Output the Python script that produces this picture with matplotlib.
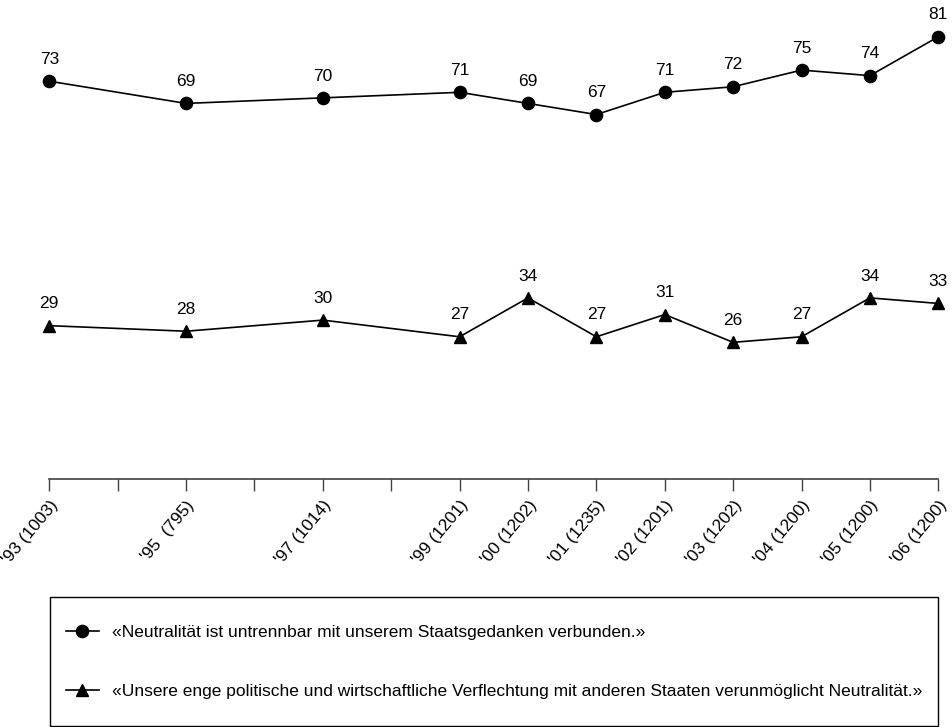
import numpy as np
import matplotlib
matplotlib.use("Agg")
import matplotlib.pyplot as plt
from matplotlib.patches import Rectangle

plt.rcParams["font.family"] = ["Liberation Sans", "DejaVu Sans"]

years = [1993, 1995, 1997, 1999, 2000, 2001, 2002, 2003, 2004, 2005, 2006]
year_labels = ["'93 (1003)", "'95  (795)", "'97 (1014)", "'99 (1201)", "'00 (1202)",
               "'01 (1235)", "'02 (1201)", "'03 (1202)", "'04 (1200)", "'05 (1200)",
               "'06 (1200)"]
neutral = [73, 69, 70, 71, 69, 67, 71, 72, 75, 74, 81]
verflechtung = [29, 28, 30, 27, 34, 27, 31, 26, 27, 34, 33]
label_neutral = "«Neutralität ist untrennbar mit unserem Staatsgedanken verbunden.»"
label_verfl = "«Unsere enge politische und wirtschaftliche Verflechtung mit anderen Staaten verunmöglicht Neutralität.»"

W, H = 953, 727
fig = plt.figure(figsize=(W/100, H/100), dpi=100)
ax = fig.add_axes([49.3/W, 0.3411, (938.3-49.3)/W, 0.616])

ax.plot(years, neutral, color="black", lw=1.2, marker="o", markersize=8.8,
        clip_on=False, label=label_neutral)
ax.plot(years, verflechtung, color="black", lw=1.2, marker="^", markersize=8.5,
        clip_on=False, label=label_verfl)

for x, y in zip(years, neutral):
    ax.annotate(str(y), (x, y), xytext=(0, 12.5), textcoords="offset points",
                ha="center", va="baseline", fontsize=12.5)
for x, y in zip(years, verflechtung):
    ax.annotate(str(y), (x, y), xytext=(0, 12.5), textcoords="offset points",
                ha="center", va="baseline", fontsize=12.5)

ax.set_xlim(1993, 2006)
ax.set_ylim(1.4, 82)

all_years = list(range(1993, 2007))
ticklabels = []
for yr in all_years:
    if yr in years:
        ticklabels.append(year_labels[years.index(yr)])
    else:
        ticklabels.append("")
ax.set_xticks(all_years)
ax.set_xticklabels(ticklabels, rotation=50, ha="right", va="top",
                   rotation_mode="anchor", fontsize=12.5)
ax.tick_params(axis="x", direction="out", length=8.6, width=1.0, color="#404040", pad=5)
ax.set_yticks([])

for s in ["top", "right", "left"]:
    ax.spines[s].set_visible(False)
ax.spines["bottom"].set_color("#404040")
ax.spines["bottom"].set_linewidth(1.2)

# legend box drawn by hand, legend itself without frame
box = Rectangle((50/W, 1-726/H), 888/W, 129/H, transform=fig.transFigure,
                facecolor="none", edgecolor="black", lw=1.0)
fig.patches.append(box)

leg = fig.legend(loc="center left", bbox_to_anchor=(66/W, 1-662/H),
                 fontsize=12.5, frameon=False, handlelength=1.9,
                 handletextpad=0.75, borderpad=0, labelspacing=2.5,
                 borderaxespad=0)

fig.savefig("out.png", dpi=100)
